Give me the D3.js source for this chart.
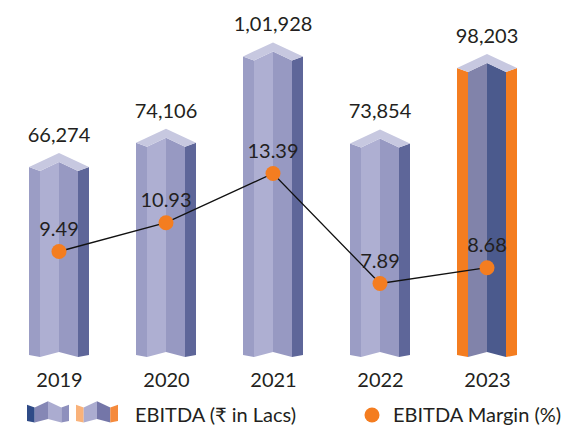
<!DOCTYPE html>
<html>
<head>
<meta charset="utf-8">
<script src="https://cdn.jsdelivr.net/npm/d3@7"></script>
<style>
  body { margin: 0; background: #fff; }
  svg text { font-family: Lato, "Open Sans", sans-serif; fill: #231f20; }
</style>
</head>
<body>
<script>
var years = ["2019", "2020", "2021", "2022", "2023"];
var ebitda = [66274, 74106, 101928, 73854, 98203];
var margin = [9.49, 10.93, 13.39, 7.89, 8.68];

var width = 562, height = 432;
var baseY = 355;

var normalFaces = ["#9b9dc5", "#aeafd2", "#9799c2", "#5e6699"];
var lastFaces = ["#f47d20", "#8183aa", "#4b5a8d", "#f47d20"];
var capColor = "#c7c8e0";
var orange = "#f47d20";

// indian digit grouping, 101928 -> 1,01,928
function indian(n) {
  var s = String(n);
  if (s.length <= 3) return s;
  var last = s.slice(-3), rest = s.slice(0, -3);
  rest = rest.replace(/\B(?=(\d{2})+(?!\d))/g, ",");
  return rest + "," + last;
}

var svg = d3.select("body").append("svg")
  .attr("width", width)
  .attr("height", height);

var x = d3.scalePoint().domain(years).range([59, 487]);
var y = d3.scaleLinear().domain([0, 110000]).range([358.5, 17.4]);
var yM = d3.scaleLinear().domain([0, 20]).range([441.3, 41.3]);

// profile of the bar across its width: x offset, top offset, bottom offset
var prof = [
  { dx: -30, t: 14, b: 0 },
  { dx: -19, t: 18, b: 2 },
  { dx: 0, t: 9, b: -3 },
  { dx: 19, t: 18, b: 2 },
  { dx: 30, t: 14, b: 0 }
];

function drawBar(g, c, p, bottom, faces, cap, k) {
  k = k || 1;
  for (var i = 0; i < 4; i++) {
    var a = prof[i], b = prof[i + 1];
    var pts = [
      [c + a.dx * k, p + a.t * k],
      [c + b.dx * k, p + b.t * k],
      [c + b.dx * k, bottom + b.b * k],
      [c + a.dx * k, bottom + a.b * k]
    ];
    g.append("polygon").attr("points", pts.join(" ")).attr("fill", faces[i]);
  }
  if (cap) {
    var capPts = [
      [c - 30 * k, p + 14 * k], [c, p], [c + 30 * k, p + 14 * k],
      [c + 19 * k, p + 18 * k], [c, p + 9 * k], [c - 19 * k, p + 18 * k]
    ];
    g.append("polygon").attr("points", capPts.join(" ")).attr("fill", cap);
  }
}

var bars = svg.append("g");
years.forEach(function (yr, i) {
  var faces = i === years.length - 1 ? lastFaces : normalFaces;
  drawBar(bars, x(yr), y(ebitda[i]), baseY, faces, capColor);
});

// value labels above bars
svg.append("g").selectAll("text")
  .data(years)
  .enter().append("text")
  .attr("x", function (d) { return x(d); })
  .attr("y", function (d, i) { return y(ebitda[i]) - 11; })
  .attr("text-anchor", "middle")
  .style("font-size", "20px")
  .text(function (d, i) { return indian(ebitda[i]); });

// margin line
var line = d3.line()
  .x(function (d, i) { return x(years[i]); })
  .y(function (d) { return yM(d); });

svg.append("path")
  .datum(margin)
  .attr("d", line)
  .attr("fill", "none")
  .attr("stroke", "#111")
  .attr("stroke-width", 1.3);

svg.append("g").selectAll("circle")
  .data(margin)
  .enter().append("circle")
  .attr("cx", function (d, i) { return x(years[i]); })
  .attr("cy", function (d) { return yM(d); })
  .attr("r", 7.5)
  .attr("fill", orange);

svg.append("g").selectAll("text")
  .data(margin)
  .enter().append("text")
  .attr("x", function (d, i) { return x(years[i]); })
  .attr("y", function (d) { return yM(d) - 16; })
  .attr("text-anchor", "middle")
  .style("font-size", "20px")
  .text(function (d) { return d.toFixed(2); });

// x axis labels
var xAxis = d3.axisBottom(x).tickSize(0).tickPadding(0);
var gx = svg.append("g")
  .attr("transform", "translate(0,373)")
  .call(xAxis);
gx.select(".domain").remove();
gx.selectAll("text")
  .attr("dy", "0.71em")
  .style("font-size", "20px")
  .style("font-family", "Lato, sans-serif")
  .attr("fill", "#231f20");

// legend
var legend = svg.append("g");
drawBar(legend, 48, 395, 421, ["#2f4b87", "#8587b5", "#abacd0", "#8e90bd"], null, 0.7);
drawBar(legend, 97, 395, 421, ["#f9b27a", "#abacd0", "#7476a8", "#f58a3c"], null, 0.7);
legend.append("text")
  .attr("x", 135).attr("y", 422)
  .style("font-size", "20px")
  .text("EBITDA (₹ in Lacs)");
legend.append("circle")
  .attr("cx", 372).attr("cy", 415).attr("r", 7.5)
  .attr("fill", orange);
legend.append("text")
  .attr("x", 393).attr("y", 422)
  .style("font-size", "20px")
  .text("EBITDA Margin (%)");
</script>
</body>
</html>
